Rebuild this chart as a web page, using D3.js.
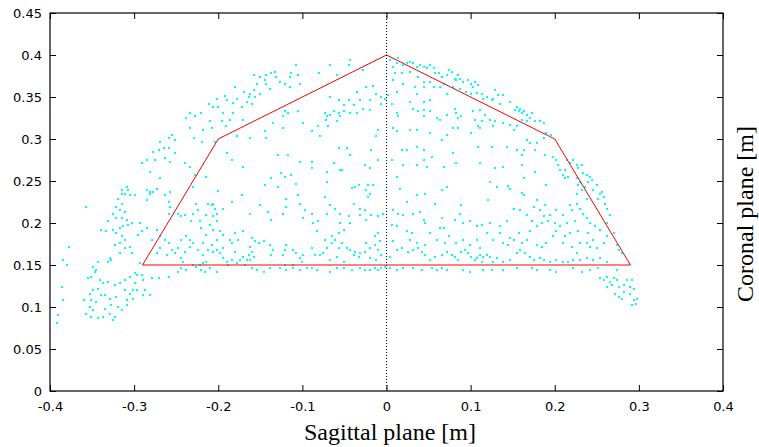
<!DOCTYPE html>
<html>
<head>
<meta charset="utf-8">
<script src="https://cdn.jsdelivr.net/npm/d3@7"></script>
<style>
  body { margin: 0; background: #fff; }
  svg { display: block; }
</style>
</head>
<body>
<div id="chart"></div>
<script>
// axis ticks
var xTicks = [-0.4, -0.3, -0.2, -0.1, 0, 0.1, 0.2, 0.3, 0.4]
var yTicks = [0, 0.05, 0.1, 0.15, 0.2, 0.25, 0.3, 0.35, 0.4, 0.45]
var xLabels = ["-0.4", "-0.3", "-0.2", "-0.1", "0", "0.1", "0.2", "0.3", "0.4"]
var yLabels = ["0", "0.05", "0.1", "0.15", "0.2", "0.25", "0.3", "0.35", "0.4", "0.45"]

// workspace boundary (red polygon), metres
var boundX = [-0.29, -0.2, 0, 0.2, 0.29, -0.29]
var boundY = [0.15, 0.3, 0.4, 0.3, 0.15, 0.15]

// sampled positions, millimetres, pairs of sagittal,coronal
var ptsUpperLeft = [
  -180,362, -169,356, -202,348, -192,351, -190,346, -211,342, -206,338, -200,338, -183,343, -178,348,
  -172,338, -166,344, -164,350, -234,331, -228,327, -238,325, -220,331, -194,331, -183,331, -210,322,
  -196,321, -186,323, -170,323, -218,311, -234,313, -208,313, -191,315, -229,301, -219,297, -204,297,
  -255,305, -251,299, -259,301, -269,297, -265,289, -271,287, -277,285, -259,289, -251,283, -263,277,
  -257,273, -275,275, -285,275, -291,271, -240,271, -234,267, -228,257, -215,255, -190,283, -184,275,
  -170,267, -269,253, -281,261, -273,241, -281,237, -309,243, -315,239, -314,235, -200,238, -230,243,
  -257,237, -178,303
]

var ptsUpperMid = [
  -158,376, -150,374, -143,376, -137,378, -133,380, -131,374, -144,370, -154,366, -143,366, -127,368,
  -121,366, -115,374, -105,376, -107,388, -113,378, -158,358, -139,360, -115,362, -103,366, -156,350,
  -160,342, -162,354, -150,354, -67,388, -43,394, -45,388, -59,376, -28,382, -80,379, -121,333,
  -117,331, -123,327, -135,319, -105,333, -99,319, -123,313, -144,309, -143,301, -162,301, -73,331,
  -71,327, -67,329, -72,323, -63,333, -57,331, -55,327, -69,315, -59,321, -51,333, -43,331,
  -35,331, -28,336, -20,335, -67,350, -57,346, -45,346, -35,356, -24,362, -16,363, -12,354,
  -6,350, -2,348, -6,342, -20,346, -51,340, -32,346, -39,340, -81,315, -79,303, -89,309,
  -10,311, -12,303, -18,287, -57,289, -47,289, -43,281, -129,281, -117,281, -103,273, -89,273,
  -63,271, -53,263, -26,269, -10,275, -125,259, -113,257, -137,253, -144,245, -129,243, -71,261,
  -37,243, -33,245, -22,245, -16,245, -71,249, -107,247, -89,265, -121,255, -55,263, -41,242,
  -20,265,
  4,394, 8,386, 12,390, 14,396, 20,388, 24,390, 28,392, 32,390, 36,386, 40,388,
  44,386, 48,384, 52,388, 56,384, 58,378, 62,378, 66,374, 72,376, 74,382, 10,378,
  18,378, 28,380, 38,374, 44,368, 52,368, 68,366, 64,362, 72,354, 56,362, 8,370,
  20,366, 34,362, 44,362, 12,356, 36,354, 44,344, 52,346, 2,352, 6,342, 28,344,
  12,331, 14,327, 32,336, 38,333, 44,335, 52,333, 60,325, 64,323, 72,329, 44,327,
  8,313, 12,309, 28,311, 36,311, 52,307, 66,299, 72,305, 18,287, 24,287, 36,291,
  44,287, 44,275, 54,279, 68,267, 6,275, 20,269, 36,269, 48,267, 16,241, 36,233,
  46,235, 66,239, 72,243, 12,255
]

var ptsUpperRight = [
  78,380, 81,372, 83,370, 85,376, 87,372, 91,368, 97,370, 101,366, 105,368, 109,364,
  103,362, 79,362, 87,360, 95,356, 101,354, 107,355, 113,354, 119,350, 129,358, 133,352,
  139,352, 115,348, 125,346, 127,348, 135,342, 147,344, 155,338, 159,336, 163,333, 167,329,
  173,331, 171,325, 177,321, 183,321, 187,319, 190,307, 196,305, 153,335, 157,333, 161,331,
  81,336, 83,331, 85,325, 89,327, 103,333, 111,335, 117,329, 105,323, 113,321, 109,315,
  111,313, 123,323, 129,321, 127,315, 139,319, 147,317, 155,315, 151,311, 161,323, 167,321,
  79,313, 85,313, 101,307, 167,299, 171,295, 179,295, 187,301, 163,287, 155,287, 177,287,
  188,281, 143,291, 125,291, 109,291, 161,281, 79,283, 83,271, 111,271, 139,267, 129,265,
  161,269, 177,261, 163,253, 123,249, 131,243, 145,244, 147,241, 161,236, 190,245,
  198,279, 202,275, 204,269, 206,263, 212,263, 210,257, 212,253, 216,255, 214,275, 218,271,
  222,275, 226,269, 228,265, 232,269, 234,259, 238,257, 242,255, 244,251, 250,245, 240,249,
  230,249, 226,253, 228,245, 236,243, 232,239, 226,235, 246,239, 256,237
]

var ptsLowerLeft = [
  -315,239, -311,235, -307,239, -305,233, -299,233, -319,229, -315,223, -321,219, -317,215, -311,213,
  -325,211, -321,206, -315,206, -309,204, -303,200, -307,198, -313,196, -317,194, -325,192, -331,202,
  -333,190, -339,192, -321,188, -315,184, -311,180, -317,176, -323,174, -311,170, -305,172, -303,164,
  -317,164, -329,158, -327,156, -331,154, -343,154, -349,148, -345,144, -347,142, -351,136, -355,134,
  -341,132, -337,128, -331,130, -323,126, -317,128, -311,132, -305,136, -297,138, -299,128, -301,120,
  -311,120, -305,116, -321,112, -329,110, -335,114, -339,114, -343,122, -349,120, -353,116, -359,108,
  -351,108, -345,106, -353,100, -349,96, -357,92, -351,88, -343,87, -337,88, -329,92, -323,88,
  -325,85, -335,98, -327,102, -319,100, -309,108, -301,110, -315,96, -309,102, -297,120, -291,138,
  -289,132, -287,120, -289,114, -281,114, -279,134, -271,134, -259,136, -293,152, -299,140, -285,239,
  -281,235, -277,237, -285,227, -263,233, -259,225, -257,219, -259,211, -293,200, -291,190, -295,186,
  -285,194, -279,180, -273,192, -269,184, -263,180, -259,176, -255,168, -269,170, -273,164, -261,162,
  -252,164, -248,170, -244,180, -238,184, -234,180, -230,176, -234,172, -240,166, -244,158, -242,154,
  -244,146, -238,144, -248,142, -230,150, -226,148, -222,150, -218,152, -214,154, -220,144, -216,142,
  -210,146, -212,168, -206,166, -202,168, -208,174, -202,180, -206,192, -210,198, -202,202, -214,210,
  -206,208, -202,211, -208,221, -212,223, -206,223, -204,217, -194,217, -184,225, -172,233, -162,211,
  -226,223, -224,215, -230,211, -240,210, -244,208, -248,211, -232,202, -222,202, -220,194, -214,186,
  -218,176, -224,168, -218,162, -198,164, -194,158, -190,154, -184,156, -178,152, -174,156, -170,160,
  -166,156, -180,166, -186,180, -180,188, -176,180, -184,176, -194,170, -168,150, -164,162, -194,186,
  -198,190, -170,190, -162,172, -202,142, -188,150, -357,219, -378,172, -384,156, -380,150, -386,124,
  -384,108, -390,90, -392,81
]

var ptsLowerMid = [
  -160,182, -156,178, -152,176, -146,178, -160,166, -158,160, -162,156, -139,174, -135,168, -137,162,
  -119,174, -121,168, -123,162, -111,168, -107,164, -99,162, -103,158, -101,154, -89,170, -85,162,
  -79,162, -75,164, -71,170, -65,176, -61,180, -57,170, -53,176, -47,170, -43,168, -37,166,
  -39,162, -32,164, -26,166, -20,170, -24,176, -14,174, -10,168, -8,178, -6,162, -59,160,
  -67,156, -51,154, -33,160, -20,158, -12,156, -160,146, -154,144, -146,142, -139,146, -127,146,
  -119,144, -111,146, -103,144, -95,146, -89,146, -83,144, -67,142, -59,146, -51,146, -41,144,
  -32,146, -26,144, -20,144, -14,146, -10,144, -6,146, -2,148, 4,146, 12,144, 20,146,
  32,146, 42,144, 54,146, 60,144, 66,146, 72,144, -121,150, -111,150, 4,160, 12,168,
  18,170, 26,166, 32,168, 38,170, 42,166, 46,162, 52,156, 58,160, 66,162, 72,166,
  8,178, 28,180, 36,176, 46,174, 60,180, 70,176, 74,184, 24,190, 30,188, 52,188,
  68,194, 8,215, 14,211, 20,210, 32,211, 40,213, 44,204, 46,200, 58,223, 64,194,
  66,206, 6,198, 12,196, 24,225, 36,233, -67,221, -61,217, -71,211, -55,211, -39,223,
  -32,217, -26,215, -32,210, -24,204, -18,210, -10,208, -4,211, -45,208, -43,200, -51,192,
  -57,188, -65,184, -73,180, -83,190, -87,200, -99,206, -97,215, -103,223, -119,219, -123,211,
  -137,204, -141,213, -150,221, -119,229, -105,233, -73,231, -22,231, -81,202, -89,211, -55,200,
  -10,188, -14,184, -24,239, -20,235
]

var ptsLowerRight = [
  78,162, 81,160, 85,156, 89,166, 93,168, 97,164, 101,160, 105,156, 107,158, 111,162,
  115,160, 119,162, 123,160, 113,154, 127,154, 131,158, 139,154, 147,156, 155,164, 159,168,
  165,164, 171,160, 175,156, 183,158, 187,156, 194,154, 202,156, 210,154, 216,154, 222,156,
  230,156, 238,158, 246,156, 254,158, 262,154, 91,144, 99,142, 115,144, 125,144, 139,144,
  155,146, 173,146, 179,144, 194,144, 202,142, 222,146, 232,142, 242,144, 252,146, 274,144,
  83,176, 91,180, 99,174, 107,180, 111,170, 119,188, 127,180, 135,188, 139,176, 145,174,
  147,182, 151,180, 157,188, 161,176, 167,180, 171,190, 179,174, 185,172, 190,176, 198,184,
  202,190, 210,176, 212,184, 218,188, 220,172, 226,164, 230,176, 238,176, 246,180, 250,170,
  258,176, 262,184, 254,192, 248,196, 242,200, 238,206, 234,211, 230,217, 226,223, 218,221,
  220,215, 210,210, 202,215, 194,210, 187,208, 183,215, 175,219, 167,210, 159,215, 151,217,
  143,202, 135,196, 123,200, 113,198, 107,196, 99,202, 91,200, 87,211, 81,204, 173,202,
  179,196, 185,200, 192,202, 200,200, 206,196, 214,200, 224,202, 228,190, 240,188, 242,172,
  262,200, 266,210, 270,188, 274,174, 276,168, 280,164, 258,231, 252,229, 260,223, 262,217,
  254,235, 226,235, 238,229, 179,227, 188,221, 163,233, 121,227, 89,221,
  254,134, 258,132, 262,136, 266,130, 270,134, 274,132, 262,124, 268,126, 276,124, 282,126,
  286,132, 292,132, 290,124, 294,122, 282,118, 272,116, 276,112, 280,110, 290,116, 294,108,
  298,110, 296,104, 292,102
]

var W = 759, H = 447
var plot = { left: 50, right: 723, top: 13, bottom: 391 }

var svg = d3.select("#chart").append("svg")
    .attr("width", W)
    .attr("height", H)

var x = d3.scaleLinear().domain([-0.4, 0.4]).range([plot.left, plot.right])
var y = d3.scaleLinear().domain([0, 0.45]).range([plot.bottom, plot.top])

// pair up the flat mm lists
function pairs(arr) {
    var out = []
    for (var i = 0; i < arr.length; i += 2) out.push([arr[i] / 1000, arr[i + 1] / 1000])
    return out
}
var points = [].concat(
    pairs(ptsUpperLeft), pairs(ptsUpperMid), pairs(ptsUpperRight),
    pairs(ptsLowerLeft), pairs(ptsLowerMid), pairs(ptsLowerRight)
)

// scatter, snapped to whole pixels so dots stay crisp
svg.append("g")
    .attr("shape-rendering", "crispEdges")
    .selectAll("rect")
    .data(points)
    .enter()
    .append("rect")
    .attr("x", d => Math.round(x(d[0])) - 1)
    .attr("y", d => Math.round(y(d[1])) - 1)
    .attr("width", 2)
    .attr("height", 2)
    .attr("fill", "#00ffff")

// zero line
svg.append("line")
    .attr("x1", x(0)).attr("x2", x(0))
    .attr("y1", y(0.45)).attr("y2", y(0))
    .attr("stroke", "#000")
    .attr("stroke-width", 1)
    .attr("stroke-dasharray", "1,2")

// boundary polygon
var bound = boundX.map((v, i) => [v, boundY[i]])
svg.append("path")
    .datum(bound)
    .attr("d", d3.line().x(d => x(d[0])).y(d => y(d[1])))
    .attr("fill", "none")
    .attr("stroke", "#ff0000")
    .attr("stroke-width", 1)

// axes, ticks point inward like gnuplot
var tickFont = "'DejaVu Sans', sans-serif"

var xAxis = svg.append("g")
    .attr("transform", `translate(0,${plot.bottom})`)
    .call(d3.axisBottom(x).tickValues(xTicks).tickFormat((d, i) => xLabels[i])
        .tickSizeInner(-6).tickSizeOuter(0).tickPadding(11))
var xTop = svg.append("g")
    .attr("transform", `translate(0,${plot.top})`)
    .call(d3.axisTop(x).tickValues(xTicks).tickFormat("").tickSizeInner(-6).tickSizeOuter(0))
var yAxis = svg.append("g")
    .attr("transform", `translate(${plot.left},0)`)
    .call(d3.axisLeft(y).tickValues(yTicks).tickFormat((d, i) => yLabels[i])
        .tickSizeInner(-6).tickSizeOuter(0).tickPadding(8))
var yRight = svg.append("g")
    .attr("transform", `translate(${plot.right},0)`)
    .call(d3.axisRight(y).tickValues(yTicks).tickFormat("").tickSizeInner(-6).tickSizeOuter(0))

;[xAxis, xTop, yAxis, yRight].forEach(g => {
    g.select(".domain").remove()
    g.selectAll(".tick line").attr("stroke", "#000")
    g.selectAll("text")
        .attr("font-family", tickFont)
        .attr("font-size", "13px")
        .attr("fill", "#000")
})

// frame
svg.append("rect")
    .attr("x", plot.left)
    .attr("y", plot.top)
    .attr("width", plot.right - plot.left)
    .attr("height", plot.bottom - plot.top)
    .attr("fill", "none")
    .attr("stroke", "#000")
    .attr("stroke-width", 1.2)

// axis titles
svg.append("text")
    .attr("x", 390)
    .attr("y", 440)
    .attr("text-anchor", "middle")
    .attr("font-family", "'Liberation Serif', 'Times New Roman', serif")
    .attr("font-size", "24px")
    .text("Sagittal plane [m]")

svg.append("text")
    .attr("transform", "translate(753,214) rotate(-90)")
    .attr("text-anchor", "middle")
    .attr("font-family", "'Liberation Serif', 'Times New Roman', serif")
    .attr("font-size", "24px")
    .text("Coronal plane [m]")
</script>
</body>
</html>
